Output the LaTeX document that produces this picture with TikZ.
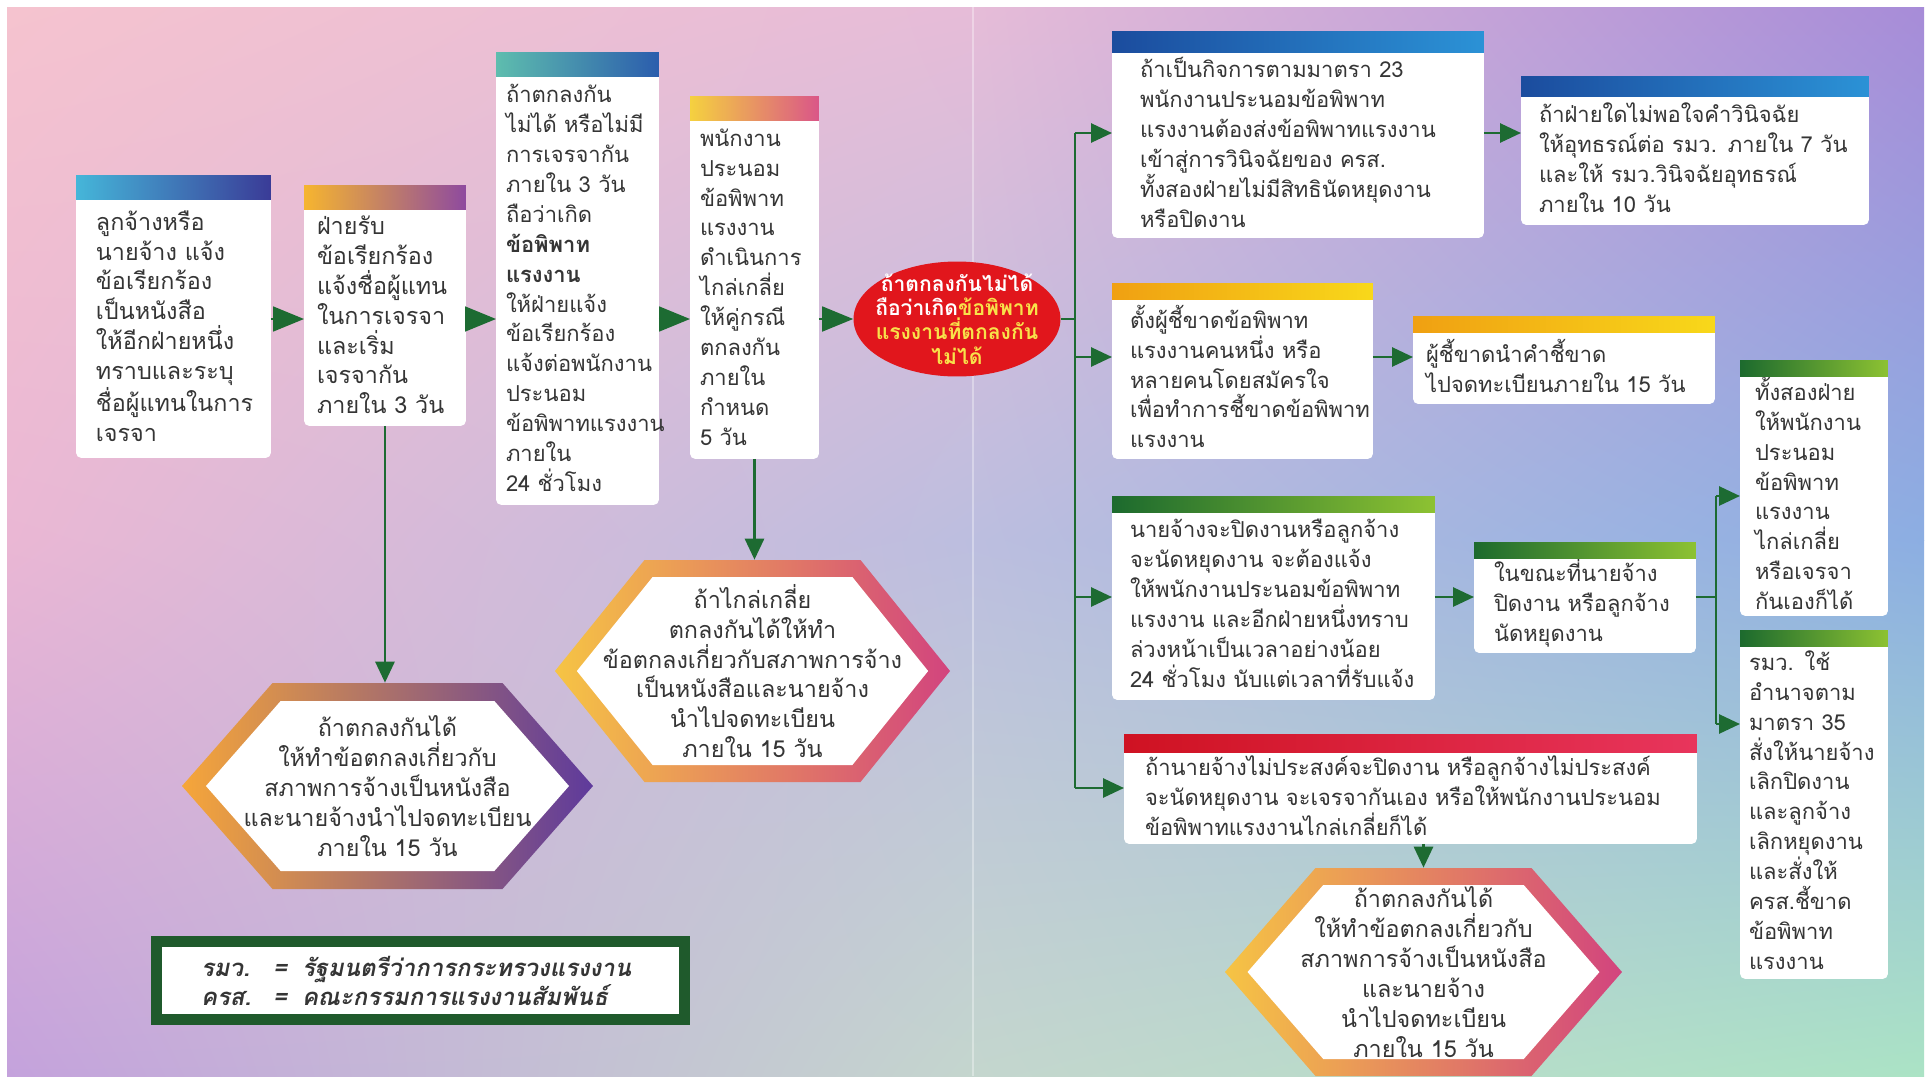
\documentclass[tikz,border=0pt]{standalone}
\usepackage{fontspec}
\usepackage{tikz}
\usetikzlibrary{arrows.meta, positioning, shapes.geometric, calc, shadings}
\newfontfamily\thaifont[Script=Thai]{Loma}
\newfontfamily\thaislant[Script=Thai, FakeSlant=0.2]{Loma}
\definecolor{inkgrey}{HTML}{353535}
\definecolor{flowgreen}{HTML}{1D6B32}
\definecolor{ellred}{HTML}{E1161C}
\definecolor{ellyellow}{HTML}{F8E24A}
\definecolor{legendgreen}{HTML}{1F5A2C}
\definecolor{barcyan}{HTML}{45B6D9}
\definecolor{barindigo}{HTML}{3A3B97}
\definecolor{barorange}{HTML}{F6B52F}
\definecolor{barpink}{HTML}{EE6A8C}
\definecolor{barplum}{HTML}{8E4A9F}
\definecolor{barteal}{HTML}{5EBDAE}
\definecolor{barblue}{HTML}{2B5DAD}
\definecolor{baryellow}{HTML}{F5D13F}
\definecolor{barrose}{HTML}{DA5688}
\definecolor{barnavy}{HTML}{1B4C9E}
\definecolor{barsky}{HTML}{2B92D6}
\definecolor{baramber}{HTML}{F0A012}
\definecolor{bargold}{HTML}{F8D81A}
\definecolor{barforest}{HTML}{1C6A2E}
\definecolor{barlime}{HTML}{8DC232}
\definecolor{barcrimson}{HTML}{CF1222}
\definecolor{barraspberry}{HTML}{E8355C}
\definecolor{hexorange}{HTML}{F6A63A}
\definecolor{hexpink}{HTML}{EE5F80}
\definecolor{hexpurple}{HTML}{5E3A9C}
\definecolor{hexyellow}{HTML}{F6C444}
\definecolor{hexsalmon}{HTML}{EE8C70}
\definecolor{hexmagenta}{HTML}{D2447E}
\definecolor{bgA}{HTML}{F5C3CF}
\definecolor{bgB}{HTML}{E6BCD8}
\definecolor{bgC}{HTML}{A78CD8}
\definecolor{bgD}{HTML}{EAB7D4}
\definecolor{bgE}{HTML}{BCBEDF}
\definecolor{bgF}{HTML}{8CAEE2}
\definecolor{bgG}{HTML}{C4A2DC}
\definecolor{bgH}{HTML}{C4D6CE}
\definecolor{bgI}{HTML}{ABE3C5}

\tikzset{
  card/.style={fill=white, rounded corners=3pt, anchor=north west, align=left,
    inner xsep=0.2cm, inner ysep=0pt, outer sep=0pt, text=inkgrey,
    font=\thaifont\fontsize{12.5}{17}\selectfont},
  roomy/.style={font=\thaifont\fontsize{13.3}{17}\selectfont},
  hexlabel/.style={align=center, inner sep=0pt, text=inkgrey,
    font=\thaifont\fontsize{13.3}{17}\selectfont},
  trunk/.style={draw=flowgreen, line width=1.6pt},
  flow/.style={trunk, -{Triangle[length=0.42cm, width=0.38cm]}},
  bigtip/.style={draw=flowgreen, line width=1pt, -{Triangle[length=0.62cm, width=0.5cm]}},
  legendbox/.style={fill=white, draw=legendgreen, line width=6.3pt,
    minimum width=10.56cm, minimum height=1.56cm, inner xsep=0.89cm,
    text width=8.78cm, align=left, text=inkgrey,
    font=\thaislant\bfseries\fontsize{13.6}{15.5}\selectfont}
}

\newcommand{\topbar}[3]{\shade[#3] ($(#1.north west)+(0,5-#2)$) rectangle ($(#1.north east)+(0,5)$);}

\newcommand{\hexframe}[6]{%
  \pgfmathsetmacro{\hexang}{atan(#3/(#2-#4))}%
  \pgfmathsetmacro{\hexiw}{#2-#5/sin(\hexang)}%
  \pgfmathsetmacro{\hexih}{#3-#5}%
  \pgfmathsetmacro{\hexit}{\hexiw-(#2-#4)*\hexih/#3}%
  \shade[#6] ($(#1)+(-#2,0)$) -- ($(#1)+(-#4,-#3)$) -- ($(#1)+(#4,-#3)$)
    -- ($(#1)+(#2,0)$) -- ($(#1)+(#4,#3)$) -- ($(#1)+(-#4,#3)$) -- cycle;
  \fill[white] ($(#1)+(-\hexiw,0)$) -- ($(#1)+(-\hexit,-\hexih)$) -- ($(#1)+(\hexit,-\hexih)$)
    -- ($(#1)+(\hexiw,0)$) -- ($(#1)+(\hexit,\hexih)$) -- ($(#1)+(-\hexit,\hexih)$) -- cycle;
}

\begin{document}
\begin{tikzpicture}[x=0.02cm, y=-0.02cm]
  \useasboundingbox (0,0) rectangle (1931,1076);
  \fill[white] (0,0) rectangle (1931,1076);
  \shade[upper left=bgA, upper right=bgB, lower left=bgD, lower right=bgE] (7,7) rectangle (975,540);
  \shade[upper left=bgB, upper right=bgC, lower left=bgE, lower right=bgF] (975,7) rectangle (1924,540);
  \shade[upper left=bgD, upper right=bgE, lower left=bgG, lower right=bgH] (7,540) rectangle (975,1076);
  \shade[upper left=bgE, upper right=bgF, lower left=bgH, lower right=bgI] (975,540) rectangle (1924,1076);
  \draw[white, opacity=0.35, line width=1pt] (973,7) -- (973,1076);

  % left chain
  \node[card, roomy, inner xsep=0.4cm, text width=3.10cm, minimum height=5.28cm] (b1) at (76,194)
    {ลูกจ้างหรือ\\นายจ้าง แจ้ง\\ข้อเรียกร้อง\\เป็นหนังสือ\\ให้อีกฝ่ายหนึ่ง\\ทราบและระบุ\\ชื่อผู้แทนในการ\\เจรจา};
  \topbar{b1}{24}{left color=barcyan, right color=barindigo}
  \node[card, roomy, inner xsep=0.26cm, text width=2.72cm, minimum height=4.44cm] (b2) at (304,204)
    {ฝ่ายรับ\\ข้อเรียกร้อง\\แจ้งชื่อผู้แทน\\ในการเจรจา\\และเริ่ม\\เจรจากัน\\ภายใน 3 วัน};
  \topbar{b2}{24}{left color=barorange, middle color=barpink, right color=barplum}
  \node[card, text width=2.86cm, minimum height=8.68cm] (b3) at (496,71)
    {ถ้าตกลงกัน\\ไม่ได้ หรือไม่มี\\การเจรจากัน\\ภายใน 3 วัน\\ถือว่าเกิด\\\textbf{ข้อพิพาท}\\\textbf{แรงงาน}\\ให้ฝ่ายแจ้ง\\ข้อเรียกร้อง\\แจ้งต่อพนักงาน\\ประนอม\\ข้อพิพาทแรงงาน\\ภายใน\\24 ชั่วโมง};
  \topbar{b3}{24}{left color=barteal, right color=barblue}
  \node[card, text width=2.18cm, minimum height=6.88cm] (b4) at (690,115)
    {พนักงาน\\ประนอม\\ข้อพิพาท\\แรงงาน\\ดำเนินการ\\ไกล่เกลี่ย\\ให้คู่กรณี\\ตกลงกัน\\ภายใน\\กำหนด\\5 วัน};
  \topbar{b4}{24}{left color=baryellow, right color=barrose}

  \node[ellipse, fill=ellred, minimum width=4.14cm, minimum height=2.3cm, inner sep=0pt]
    (ell) at (957,319) {};
  \node[align=center, inner sep=0pt, text=ellyellow,
    font=\thaifont\bfseries\fontsize{12}{13.8}\selectfont] (ellText) at (ell)
    {{\color{white}ถ้าตกลงกันไม่ได้}\\{\color{white}ถือว่าเกิด}ข้อพิพาท\\แรงงานที่ตกลงกัน\\ไม่ได้};

  \draw[bigtip] (b1.east |- ell.west) -- (b2.west |- ell.west);
  \draw[bigtip] (b2.east |- ell.west) -- (b3.west |- ell.west);
  \draw[bigtip] (b3.east |- ell.west) -- (b4.west |- ell.west);
  \draw[bigtip] (b4.east |- ell.west) -- (ell.west);

  % right side
  \node[card, inner xsep=0.56cm, text width=6.32cm, minimum height=3.82cm] (dA) at (1112,47)
    {ถ้าเป็นกิจการตามมาตรา 23\\พนักงานประนอมข้อพิพาท\\แรงงานต้องส่งข้อพิพาทแรงงาน\\เข้าสู่การวินิจฉัยของ ครส.\\ทั้งสองฝ่ายไม่มีสิทธินัดหยุดงาน\\หรือปิดงาน};
  \topbar{dA}{21}{left color=barnavy, right color=barsky}
  \node[card, inner xsep=0.36cm, text width=6.24cm, minimum height=2.68cm] (dB) at (1521,91)
    {ถ้าฝ่ายใดไม่พอใจคำวินิจฉัย\\ให้อุทธรณ์ต่อ รมว. ภายใน 7 วัน\\และให้ รมว.วินิจฉัยอุทธรณ์\\ภายใน 10 วัน};
  \topbar{dB}{20}{left color=barnavy, right color=barsky}
  \node[card, inner xsep=0.36cm, text width=4.50cm, minimum height=3.30cm] (dC) at (1112,294)
    {ตั้งผู้ชี้ขาดข้อพิพาท\\แรงงานคนหนึ่ง หรือ\\หลายคนโดยสมัครใจ\\เพื่อทำการชี้ขาดข้อพิพาท\\แรงงาน};
  \topbar{dC}{16}{left color=baramber, right color=bargold}
  \node[card, inner xsep=0.26cm, text width=5.52cm, minimum height=1.54cm] (dD) at (1413,327)
    {ผู้ชี้ขาดนำคำชี้ขาด\\ไปจดทะเบียนภายใน 15 วัน};
  \topbar{dD}{16}{left color=baramber, right color=bargold}
  \node[card, inner xsep=0.36cm, text width=5.74cm, minimum height=3.86cm] (dE) at (1112,507)
    {นายจ้างจะปิดงานหรือลูกจ้าง\\จะนัดหยุดงาน จะต้องแจ้ง\\ให้พนักงานประนอมข้อพิพาท\\แรงงาน และอีกฝ่ายหนึ่งทราบ\\ล่วงหน้าเป็นเวลาอย่างน้อย\\24 ชั่วโมง นับแต่เวลาที่รับแจ้ง};
  \topbar{dE}{16}{left color=barforest, right color=barlime}
  \node[card, inner xsep=0.40cm, text width=3.64cm, minimum height=2.0cm] (dF) at (1474,553)
    {ในขณะที่นายจ้าง\\ปิดงาน หรือลูกจ้าง\\นัดหยุดงาน};
  \topbar{dF}{16}{left color=barforest, right color=barlime}
  \node[card, inner xsep=0.30cm, text width=2.36cm, minimum height=4.9cm] (dG) at (1740,371)
    {ทั้งสองฝ่าย\\ให้พนักงาน\\ประนอม\\ข้อพิพาท\\แรงงาน\\ไกล่เกลี่ย\\หรือเจรจา\\กันเองก็ได้};
  \topbar{dG}{16}{left color=barforest, right color=barlime}
  \node[card, inner xsep=0.18cm, text width=2.60cm, minimum height=6.76cm] (dH) at (1740,641)
    {รมว. ใช้\\อำนาจตาม\\มาตรา 35\\สั่งให้นายจ้าง\\เลิกปิดงาน\\และลูกจ้าง\\เลิกหยุดงาน\\และสั่งให้\\ครส.ชี้ขาด\\ข้อพิพาท\\แรงงาน};
  \topbar{dH}{16}{left color=barforest, right color=barlime}
  \node[card, inner xsep=0.42cm, text width=10.62cm, minimum height=1.94cm] (dI) at (1124,747)
    {ถ้านายจ้างไม่ประสงค์จะปิดงาน หรือลูกจ้างไม่ประสงค์\\จะนัดหยุดงาน จะเจรจากันเอง หรือให้พนักงานประนอม\\ข้อพิพาทแรงงานไกล่เกลี่ยก็ได้};
  \topbar{dI}{18}{left color=barcrimson, right color=barraspberry}

  \coordinate (t0) at (1075,319);
  \coordinate (t1) at (1075,133);
  \coordinate (t2) at (1075,357);
  \coordinate (t3) at (1075,597);
  \coordinate (t4) at (1075,788);
  \draw[trunk] (ell.east) -- (t0);
  \draw[trunk] (t1) -- (t4);
  \draw[flow] (t1) -- (dA.west |- t1);
  \draw[flow] (t2) -- (dC.west |- t2);
  \draw[flow] (t3) -- (dE.west |- t3);
  \draw[flow] (t4) -- (dI.west |- t4);
  \draw[flow] (dA.east |- t1) -- (dB.west |- t1);
  \draw[flow] (dC.east |- t2) -- (dD.west |- t2);
  \draw[flow] (dE.east |- t3) -- (dF.west |- t3);

  \coordinate (k1) at (1716,597);
  \coordinate (k2) at (1716,496);
  \coordinate (k3) at (1716,724);
  \draw[trunk] (dF.east |- k1) -- (k1);
  \draw[trunk] (k2) -- (k3);
  \draw[flow] (k2) -- (dG.west |- k2);
  \draw[flow] (k3) -- (dH.west |- k3);

  % hexagons
  \coordinate (hexLc) at (387.5,786);
  \hexframe{hexLc}{205.5}{103}{115}{18}{left color=hexorange, middle color=hexpink, right color=hexpurple}
  \node[hexlabel, minimum height=4.12cm] (hexL) at (hexLc)
    {ถ้าตกลงกันได้\\ให้ทำข้อตกลงเกี่ยวกับ\\สภาพการจ้างเป็นหนังสือ\\และนายจ้างนำไปจดทะเบียน\\ภายใน 15 วัน};
  \coordinate (hexMc) at (752.5,671);
  \hexframe{hexMc}{197.5}{111}{108}{17}{left color=hexyellow, middle color=hexsalmon, right color=hexmagenta}
  \node[hexlabel, minimum height=4.44cm] (hexM) at (hexMc)
    {ถ้าไกล่เกลี่ย\\ตกลงกันได้ให้ทำ\\ข้อตกลงเกี่ยวกับสภาพการจ้าง\\เป็นหนังสือและนายจ้าง\\นำไปจดทะเบียน\\ภายใน 15 วัน};
  \coordinate (hexRc) at (1423.5,972);
  \hexframe{hexRc}{198.5}{104}{108}{17}{left color=hexyellow, middle color=hexsalmon, right color=hexmagenta}
  \node[hexlabel, minimum height=4.16cm] (hexR) at (hexRc)
    {ถ้าตกลงกันได้\\ให้ทำข้อตกลงเกี่ยวกับ\\สภาพการจ้างเป็นหนังสือ\\และนายจ้าง\\นำไปจดทะเบียน\\ภายใน 15 วัน};

  \draw[flow] (b2.south) -- (b2.south |- hexL.north);
  \draw[flow] (b4.south) -- (b4.south |- hexM.north);
  \draw[flow] (dI.south -| hexR.north) -- (hexR.north);

  \node[legendbox] (legend) at (420.5,980.5)
    {\makebox[1.44cm][l]{รมว.}\makebox[0.58cm][l]{=}รัฐมนตรีว่าการกระทรวงแรงงาน\\
     \makebox[1.44cm][l]{ครส.}\makebox[0.58cm][l]{=}คณะกรรมการแรงงานสัมพันธ์};
\end{tikzpicture}
\end{document}
